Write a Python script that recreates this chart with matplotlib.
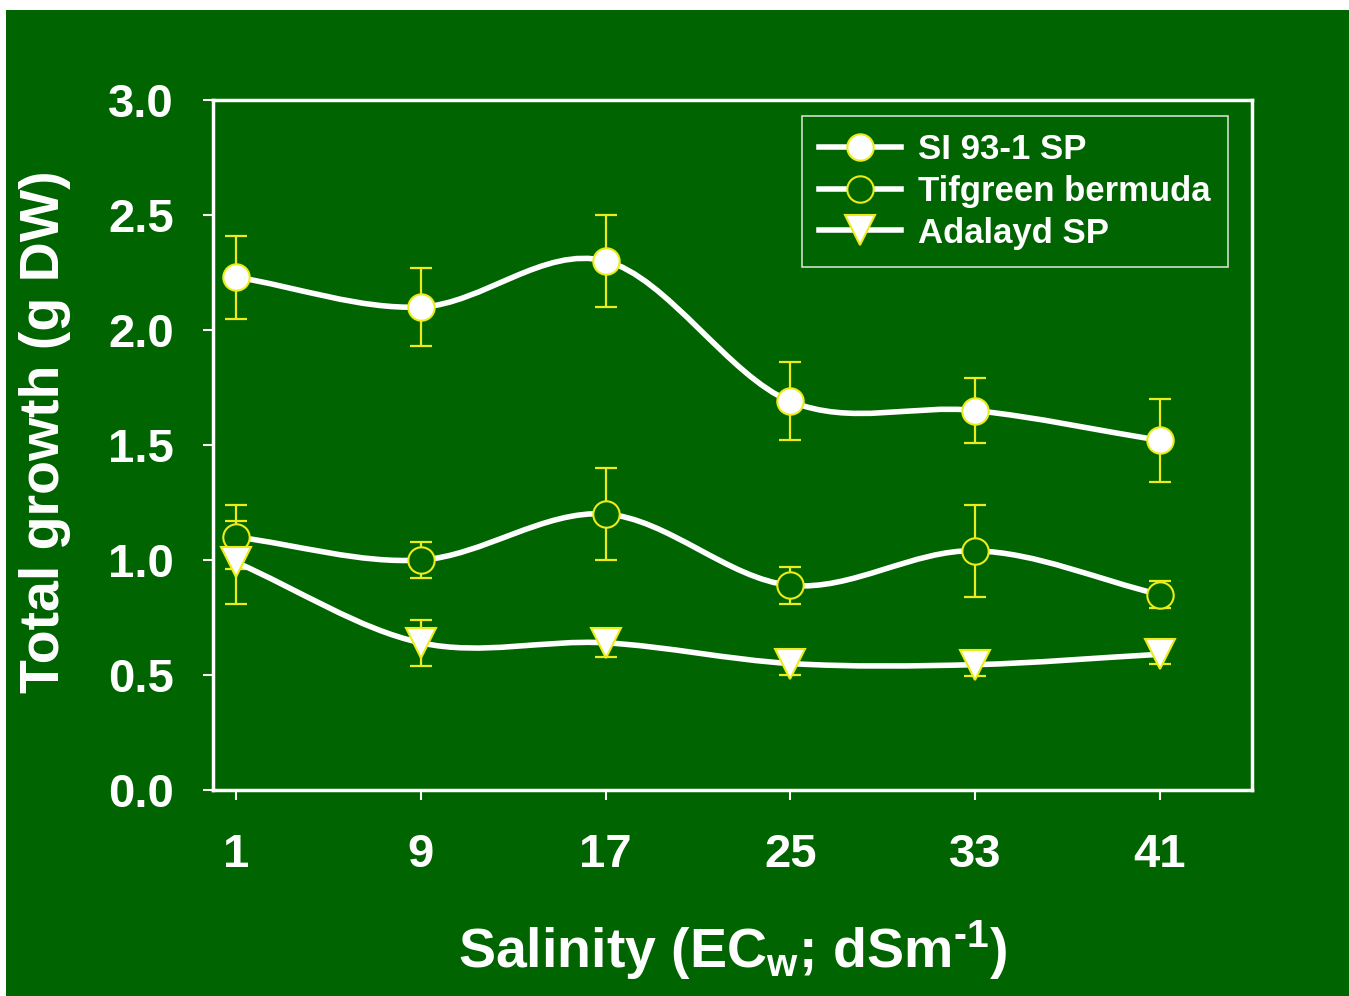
import numpy as np
import matplotlib
matplotlib.use('Agg')
import matplotlib.pyplot as plt
from matplotlib.path import Path
from matplotlib.patches import PathPatch, Rectangle
from matplotlib.lines import Line2D

plt.rcParams['font.family'] = ['Liberation Sans', 'DejaVu Sans']
plt.rcParams['font.weight'] = 'bold'
plt.rcParams['mathtext.fontset'] = 'custom'
plt.rcParams['mathtext.rm'] = 'Liberation Sans:bold'
plt.rcParams['mathtext.it'] = 'Liberation Sans:bold'
plt.rcParams['mathtext.bf'] = 'Liberation Sans:bold'
plt.rcParams['axes.unicode_minus'] = False

# data
salinity = [1, 9, 17, 25, 33, 41]
si_mean = [2.23, 2.10, 2.30, 1.69, 1.65, 1.52]
si_err = [0.18, 0.17, 0.20, 0.17, 0.14, 0.18]
tif_mean = [1.10, 1.00, 1.20, 0.89, 1.04, 0.85]
tif_err = [0.14, 0.08, 0.20, 0.08, 0.20, 0.06]
ada_mean = [0.99, 0.64, 0.64, 0.55, 0.545, 0.59]
ada_err = [0.18, 0.10, 0.06, 0.05, 0.05, 0.04]
labels = ['SI 93-1 SP', 'Tifgreen bermuda', 'Adalayd SP']
yticks = [0.0, 0.5, 1.0, 1.5, 2.0, 2.5, 3.0]

green = '#006400'
yel = '#ecec1c'


def smooth_path(xs, ys):
    # catmull-rom style bezier through the points
    p = np.column_stack([xs, ys]).astype(float)
    n = len(p)
    verts = [p[0]]
    codes = [Path.MOVETO]
    for i in range(n - 1):
        t0 = (p[i + 1] - p[i - 1]) / 2 if i > 0 else (p[1] - p[0])
        t1 = (p[i + 2] - p[i]) / 2 if i < n - 2 else (p[-1] - p[-2])
        verts += [p[i] + t0 / 3, p[i + 1] - t1 / 3, p[i + 1]]
        codes += [Path.CURVE4] * 3
    return Path(verts, codes)


fig = plt.figure(figsize=(13.49, 9.96), dpi=100, facecolor='white')
fig.patches.append(Rectangle((6 / 1349, 0), 1, 1 - 10 / 996, transform=fig.transFigure,
                             facecolor=green, edgecolor='none', zorder=-5))
ax = fig.add_axes([213 / 1349, 1 - 790 / 996, (1252 - 213) / 1349, (790 - 100) / 996])
ax.set_facecolor(green)

series = [
    (si_mean, si_err, dict(marker='o', markerfacecolor='white', markersize=19)),
    (tif_mean, tif_err, dict(marker='o', markerfacecolor=green, markersize=19)),
    (ada_mean, ada_err, dict(marker='v', markerfacecolor='white', markersize=21)),
]

handles = []
for (m, e, mk), lab in zip(series, labels):
    ax.errorbar(salinity, m, yerr=e, fmt='none', ecolor=yel, elinewidth=1.6,
                capsize=8, capthick=1.6, zorder=2)
    ax.add_patch(PathPatch(smooth_path(salinity, m), facecolor='none', edgecolor='white',
                           lw=4, zorder=3))
    ax.plot(salinity, m, linestyle='none', markeredgecolor=yel, markeredgewidth=1.5,
            zorder=4, **mk)
    handles.append(Line2D([], [], color='white', lw=4, markeredgecolor=yel,
                          markeredgewidth=1.5, label=lab, **mk))

ax.set_xlim(0, 45)
ax.set_ylim(0, 3.0)
ax.set_xticks(salinity)
ax.set_yticks(yticks)
ax.set_yticklabels(['%.1f' % v for v in yticks])

for s in ax.spines.values():
    s.set_color('white')
    s.set_linewidth(2.5)
ax.tick_params(colors='white', labelsize=34, width=1.5, length=7, direction='out')
ax.tick_params(axis='x', pad=24)
ax.tick_params(axis='y', pad=21)
for t in ax.get_xticklabels() + ax.get_yticklabels():
    t.set_fontweight('bold')

fig.text(45 / 1349, 1 - 432 / 996, 'Total growth (g DW)', color='white', fontsize=40,
         fontweight='bold', rotation=90, ha='center', va='center')
fig.text(732 / 1349, 1 - 968 / 996, r'Salinity (EC$_\mathregular{w}$; dSm$^\text{-1}$)',
         color='white', fontsize=40, fontweight='bold', ha='center', va='baseline')

leg = ax.legend(handles=handles, loc='upper right', bbox_to_anchor=(0.977, 0.977),
                borderaxespad=0, fontsize=25, frameon=True, fancybox=False,
                handlelength=2.35, borderpad=0.5, labelspacing=0.25, handletextpad=0.5)
leg.get_frame().set_facecolor(green)
leg.get_frame().set_edgecolor('white')
leg.get_frame().set_linewidth(1.2)
for t in leg.get_texts():
    t.set_color('white')
    t.set_fontweight('bold')

fig.savefig('out.png', dpi=100, facecolor=fig.get_facecolor())
